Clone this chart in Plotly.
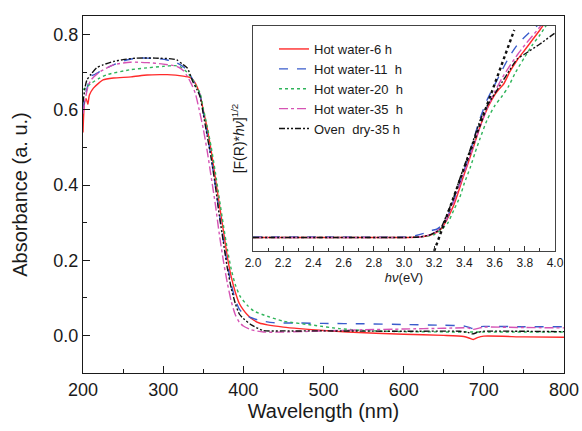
import plotly.graph_objects as go

# ---- UV-Vis absorbance spectra (main panel) ----
names = ["Hot water-6 h", "Hot water-11  h", "Hot water-20  h", "Hot water-35  h", "Oven  dry-35 h"]
colors = ["#ff2a2a", "#3a5ccc", "#2fb45a", "#d653b4", "#111111"]
dashes = ["solid", "dash", "dot", "dashdot", "6px,2px,2px,2px,2px,2px"]

wl_red = [200, 202, 204, 206, 208, 213, 220, 225, 238, 260, 280, 296, 305, 325, 334, 338, 342, 346,
          350, 355, 360, 365, 370, 375, 380, 385, 390, 395, 400, 405, 410, 420, 430, 450, 470, 500,
          530, 600, 650, 675, 683, 687, 692, 700, 750, 800]
abs_red = [0.54, 0.62, 0.63, 0.615, 0.64, 0.658, 0.672, 0.68, 0.685, 0.688, 0.693, 0.694, 0.694, 0.69,
           0.686, 0.678, 0.663, 0.64, 0.60, 0.55, 0.49, 0.42, 0.35, 0.28, 0.21, 0.155, 0.115, 0.085,
           0.068, 0.055, 0.045, 0.033, 0.028, 0.022, 0.018, 0.013, 0.009, 0.003, 0.0, -0.003, -0.008,
           -0.011, -0.006, -0.002, -0.004, -0.005]

wl_blue = [200, 203, 206, 209, 215, 221, 230, 238, 250, 259, 270, 280, 295, 305, 317, 325, 330, 337,
           342, 346, 350, 355, 360, 365, 370, 375, 380, 385, 390, 395, 400, 410, 420, 437, 470, 500,
           550, 600, 650, 675, 682, 687, 692, 700, 750, 800]
abs_blue = [0.60, 0.64, 0.665, 0.689, 0.695, 0.702, 0.712, 0.72, 0.73, 0.735, 0.738, 0.738, 0.736,
            0.733, 0.725, 0.715, 0.705, 0.68, 0.66, 0.64, 0.595, 0.535, 0.47, 0.40, 0.325, 0.255, 0.19,
            0.135, 0.095, 0.07, 0.058, 0.047, 0.04, 0.034, 0.033, 0.032, 0.031, 0.029, 0.027, 0.025,
            0.021, 0.018, 0.022, 0.024, 0.023, 0.023]

wl_green = [200, 205, 211, 220, 230, 259, 280, 300, 315, 321, 330, 337, 342, 346, 350, 355, 360, 365,
            370, 375, 380, 385, 390, 396, 405, 413, 430, 450, 488, 520, 550, 600, 700, 800]
abs_green = [0.654, 0.662, 0.672, 0.684, 0.694, 0.707, 0.712, 0.716, 0.718, 0.715, 0.70, 0.68, 0.66,
             0.645, 0.605, 0.555, 0.50, 0.435, 0.365, 0.295, 0.23, 0.175, 0.135, 0.104, 0.08, 0.065,
             0.051, 0.038, 0.027, 0.018, 0.013, 0.01, 0.009, 0.009]

wl_mag = [200, 203, 206, 210, 220, 238, 259, 280, 300, 317, 325, 330, 335, 340, 345, 350, 355, 360,
          365, 370, 375, 380, 385, 390, 395, 400, 410, 425, 450, 500, 550, 600, 650, 680, 687, 695,
          700, 750, 800]
abs_mag = [0.59, 0.63, 0.66, 0.68, 0.70, 0.72, 0.727, 0.726, 0.722, 0.716, 0.705, 0.69, 0.67, 0.645,
           0.60, 0.55, 0.49, 0.42, 0.35, 0.27, 0.20, 0.14, 0.09, 0.055, 0.035, 0.025, 0.015, 0.009,
           0.009, 0.012, 0.015, 0.017, 0.019, 0.02, 0.016, 0.02, 0.022, 0.021, 0.02]

wl_black = [200, 203, 205, 210, 217, 225, 238, 250, 267, 290, 310, 317, 324, 330, 337, 342, 346, 350,
            355, 360, 365, 370, 375, 380, 385, 390, 395, 400, 410, 425, 450, 500, 600, 670, 680, 686,
            692, 700, 750, 800]
abs_black = [0.62, 0.665, 0.68, 0.695, 0.712, 0.72, 0.729, 0.734, 0.738, 0.738, 0.736, 0.733, 0.722,
             0.712, 0.675, 0.655, 0.635, 0.59, 0.53, 0.47, 0.40, 0.32, 0.25, 0.18, 0.125, 0.085, 0.057,
             0.045, 0.028, 0.013, 0.012, 0.012, 0.011, 0.011, 0.008, 0.004, 0.008, 0.011, 0.011, 0.01]

main_x = [wl_red, wl_blue, wl_green, wl_mag, wl_black]
main_y = [abs_red, abs_blue, abs_green, abs_mag, abs_black]

# ---- Tauc plot (inset) ----
ev_red = [2.0, 2.5, 3.0, 3.1, 3.15, 3.20, 3.24, 3.28, 3.30, 3.33, 3.36, 3.39, 3.42, 3.46, 3.49, 3.52,
          3.56, 3.60, 3.63, 3.66, 3.70, 3.75, 3.80, 3.85, 3.90, 3.93]
tauc_red = [0.27, 0.27, 0.27, 0.28, 0.30, 0.35, 0.42, 0.60, 0.72, 0.92, 1.18, 1.46, 1.72, 2.08, 2.36,
            2.62, 2.90, 3.12, 3.24, 3.34, 3.58, 3.82, 4.02, 4.22, 4.42, 4.55]

ev_blue = [2.0, 2.5, 3.0, 3.08, 3.14, 3.18, 3.22, 3.26, 3.28, 3.31, 3.34, 3.37, 3.41, 3.44, 3.47, 3.50,
           3.55, 3.60, 3.65, 3.70, 3.76, 3.82, 3.88, 3.90]
tauc_blue = [0.28, 0.28, 0.28, 0.31, 0.36, 0.41, 0.44, 0.54, 0.62, 0.86, 1.10, 1.36, 1.72, 2.00, 2.32,
             2.62, 3.02, 3.32, 3.62, 3.90, 4.16, 4.34, 4.50, 4.55]

ev_green = [2.0, 2.5, 3.0, 3.1, 3.2, 3.25, 3.29, 3.33, 3.37, 3.40, 3.44, 3.47, 3.50, 3.55, 3.60, 3.65,
            3.69, 3.74, 3.80, 3.85, 3.90, 3.95]
tauc_green = [0.27, 0.27, 0.27, 0.28, 0.33, 0.44, 0.56, 0.82, 1.08, 1.36, 1.68, 1.96, 2.22, 2.62, 2.90,
              3.10, 3.28, 3.58, 3.88, 4.12, 4.32, 4.55]

ev_mag = [2.0, 2.5, 3.0, 3.1, 3.18, 3.22, 3.26, 3.30, 3.33, 3.36, 3.40, 3.44, 3.48, 3.52, 3.56, 3.60,
          3.65, 3.70, 3.75, 3.80, 3.85, 3.90, 3.92]
tauc_mag = [0.27, 0.27, 0.27, 0.28, 0.33, 0.40, 0.50, 0.78, 0.98, 1.24, 1.58, 1.92, 2.28, 2.62, 2.92,
            3.18, 3.46, 3.70, 3.92, 4.12, 4.30, 4.48, 4.55]

ev_black = [2.0, 2.5, 3.0, 3.1, 3.17, 3.21, 3.24, 3.28, 3.33, 3.36, 3.39, 3.43, 3.46, 3.51, 3.55, 3.60,
            3.65, 3.70, 3.75, 3.80, 3.90, 4.0]
tauc_black = [0.27, 0.27, 0.27, 0.28, 0.32, 0.38, 0.44, 0.70, 1.08, 1.36, 1.62, 1.96, 2.22, 2.66, 2.90,
              3.14, 3.38, 3.62, 3.84, 3.94, 4.14, 4.36]

inset_x = [ev_red, ev_blue, ev_green, ev_mag, ev_black]
inset_y = [tauc_red, tauc_blue, tauc_green, tauc_mag, tauc_black]

# linear extrapolation of the absorption edge
tangent_ev = [3.20, 3.73]
tangent_val = [0.0, 4.42]

x_ticks = [200, 300, 400, 500, 600, 700, 800]
y_ticks = [0.0, 0.2, 0.4, 0.6, 0.8]
inset_ticks = [2.0, 2.2, 2.4, 2.6, 2.8, 3.0, 3.2, 3.4, 3.6, 3.8, 4.0]

FONT = "Liberation Sans, Arial, sans-serif"
INK = "#1a1a1a"

fig = go.Figure()

for xs, ys, c, d, n in zip(main_x, main_y, colors, dashes, names):
    fig.add_trace(go.Scatter(x=xs, y=ys, mode="lines", name=n, showlegend=False,
                             line=dict(color=c, dash=d, width=1.4, shape="spline", smoothing=0.6),
                             xaxis="x", yaxis="y"))

for xs, ys, c, d, n in zip(inset_x, inset_y, colors, dashes, names):
    fig.add_trace(go.Scatter(x=xs, y=ys, mode="lines", name=n, showlegend=True,
                             line=dict(color=c, dash=d, width=1.4, shape="spline", smoothing=0.6),
                             xaxis="x2", yaxis="y2"))

fig.add_trace(go.Scatter(x=tangent_ev, y=tangent_val, mode="lines", showlegend=False,
                         line=dict(color="#111111", dash="dot", width=2.4),
                         xaxis="x2", yaxis="y2"))

W, H = 582, 431
L, R, T, B = 83, 18, 16, 58
pw, ph = W - L - R, H - T - B
ix0, ix1, iy0, iy1 = 253, 555, 26, 251
inset_xdom = [(ix0 - L) / pw, (ix1 - L) / pw]
inset_ydom = [(H - B - iy1) / ph, (H - B - iy0) / ph]

fig.update_layout(
    width=W, height=H,
    margin=dict(l=L, r=R, t=T, b=B, autoexpand=False),
    paper_bgcolor="white", plot_bgcolor="white",
    font=dict(family=FONT, color=INK),
    xaxis=dict(range=[200, 800], tickvals=x_ticks, ticks="inside", ticklen=7, tickwidth=1.2,
               tickcolor=INK, automargin=False,
               minor=dict(dtick=50, ticks="inside", ticklen=4, tickwidth=1.2, tickcolor=INK),
               showline=True, linecolor=INK, linewidth=1.4, mirror=True, showgrid=False,
               zeroline=False, tickfont=dict(size=18),
               title=dict(text="Wavelength (nm)", font=dict(size=20), standoff=4)),
    yaxis=dict(range=[-0.1, 0.85], tickvals=y_ticks, tickformat=".1f", ticks="inside", ticklen=7,
               tickwidth=1.2, tickcolor=INK, automargin=False,
               minor=dict(dtick=0.1, ticks="inside", ticklen=4, tickwidth=1.2, tickcolor=INK),
               showline=True, linecolor=INK, linewidth=1.4, mirror=True, showgrid=False,
               zeroline=False, tickfont=dict(size=18),
               title=dict(text="Absorbance (a. u.)", font=dict(size=20), standoff=20)),
    xaxis2=dict(domain=inset_xdom, anchor="y2", range=[2.0, 4.0], tickvals=inset_ticks,
                tickformat=".1f", ticks="inside", ticklen=5, tickwidth=1, tickcolor="#333",
                automargin=False,
                minor=dict(dtick=0.1, ticks="inside", ticklen=3, tickwidth=1, tickcolor="#333"),
                showline=True, linecolor="#444", linewidth=1.2, mirror=True, showgrid=False,
                zeroline=False, tickfont=dict(size=12),
                title=dict(text="<i>hν</i>(eV)", font=dict(size=13), standoff=4)),
    yaxis2=dict(domain=inset_ydom, anchor="x2", range=[0, 4.5], showticklabels=False, ticks="",
                automargin=False,
                showline=True, linecolor="#444", linewidth=1.2, mirror=True, showgrid=False,
                zeroline=False,
                title=dict(text="[F(R)*<i>hν</i>]<sup>1/2</sup>", font=dict(size=14), standoff=4)),
    legend=dict(x=(274 - L) / pw, y=(H - B - 34) / ph, xanchor="left", yanchor="top",
                bgcolor="rgba(0,0,0,0)", font=dict(size=13), tracegroupgap=0,
                itemwidth=30),
)

fig.write_html("out.html")
